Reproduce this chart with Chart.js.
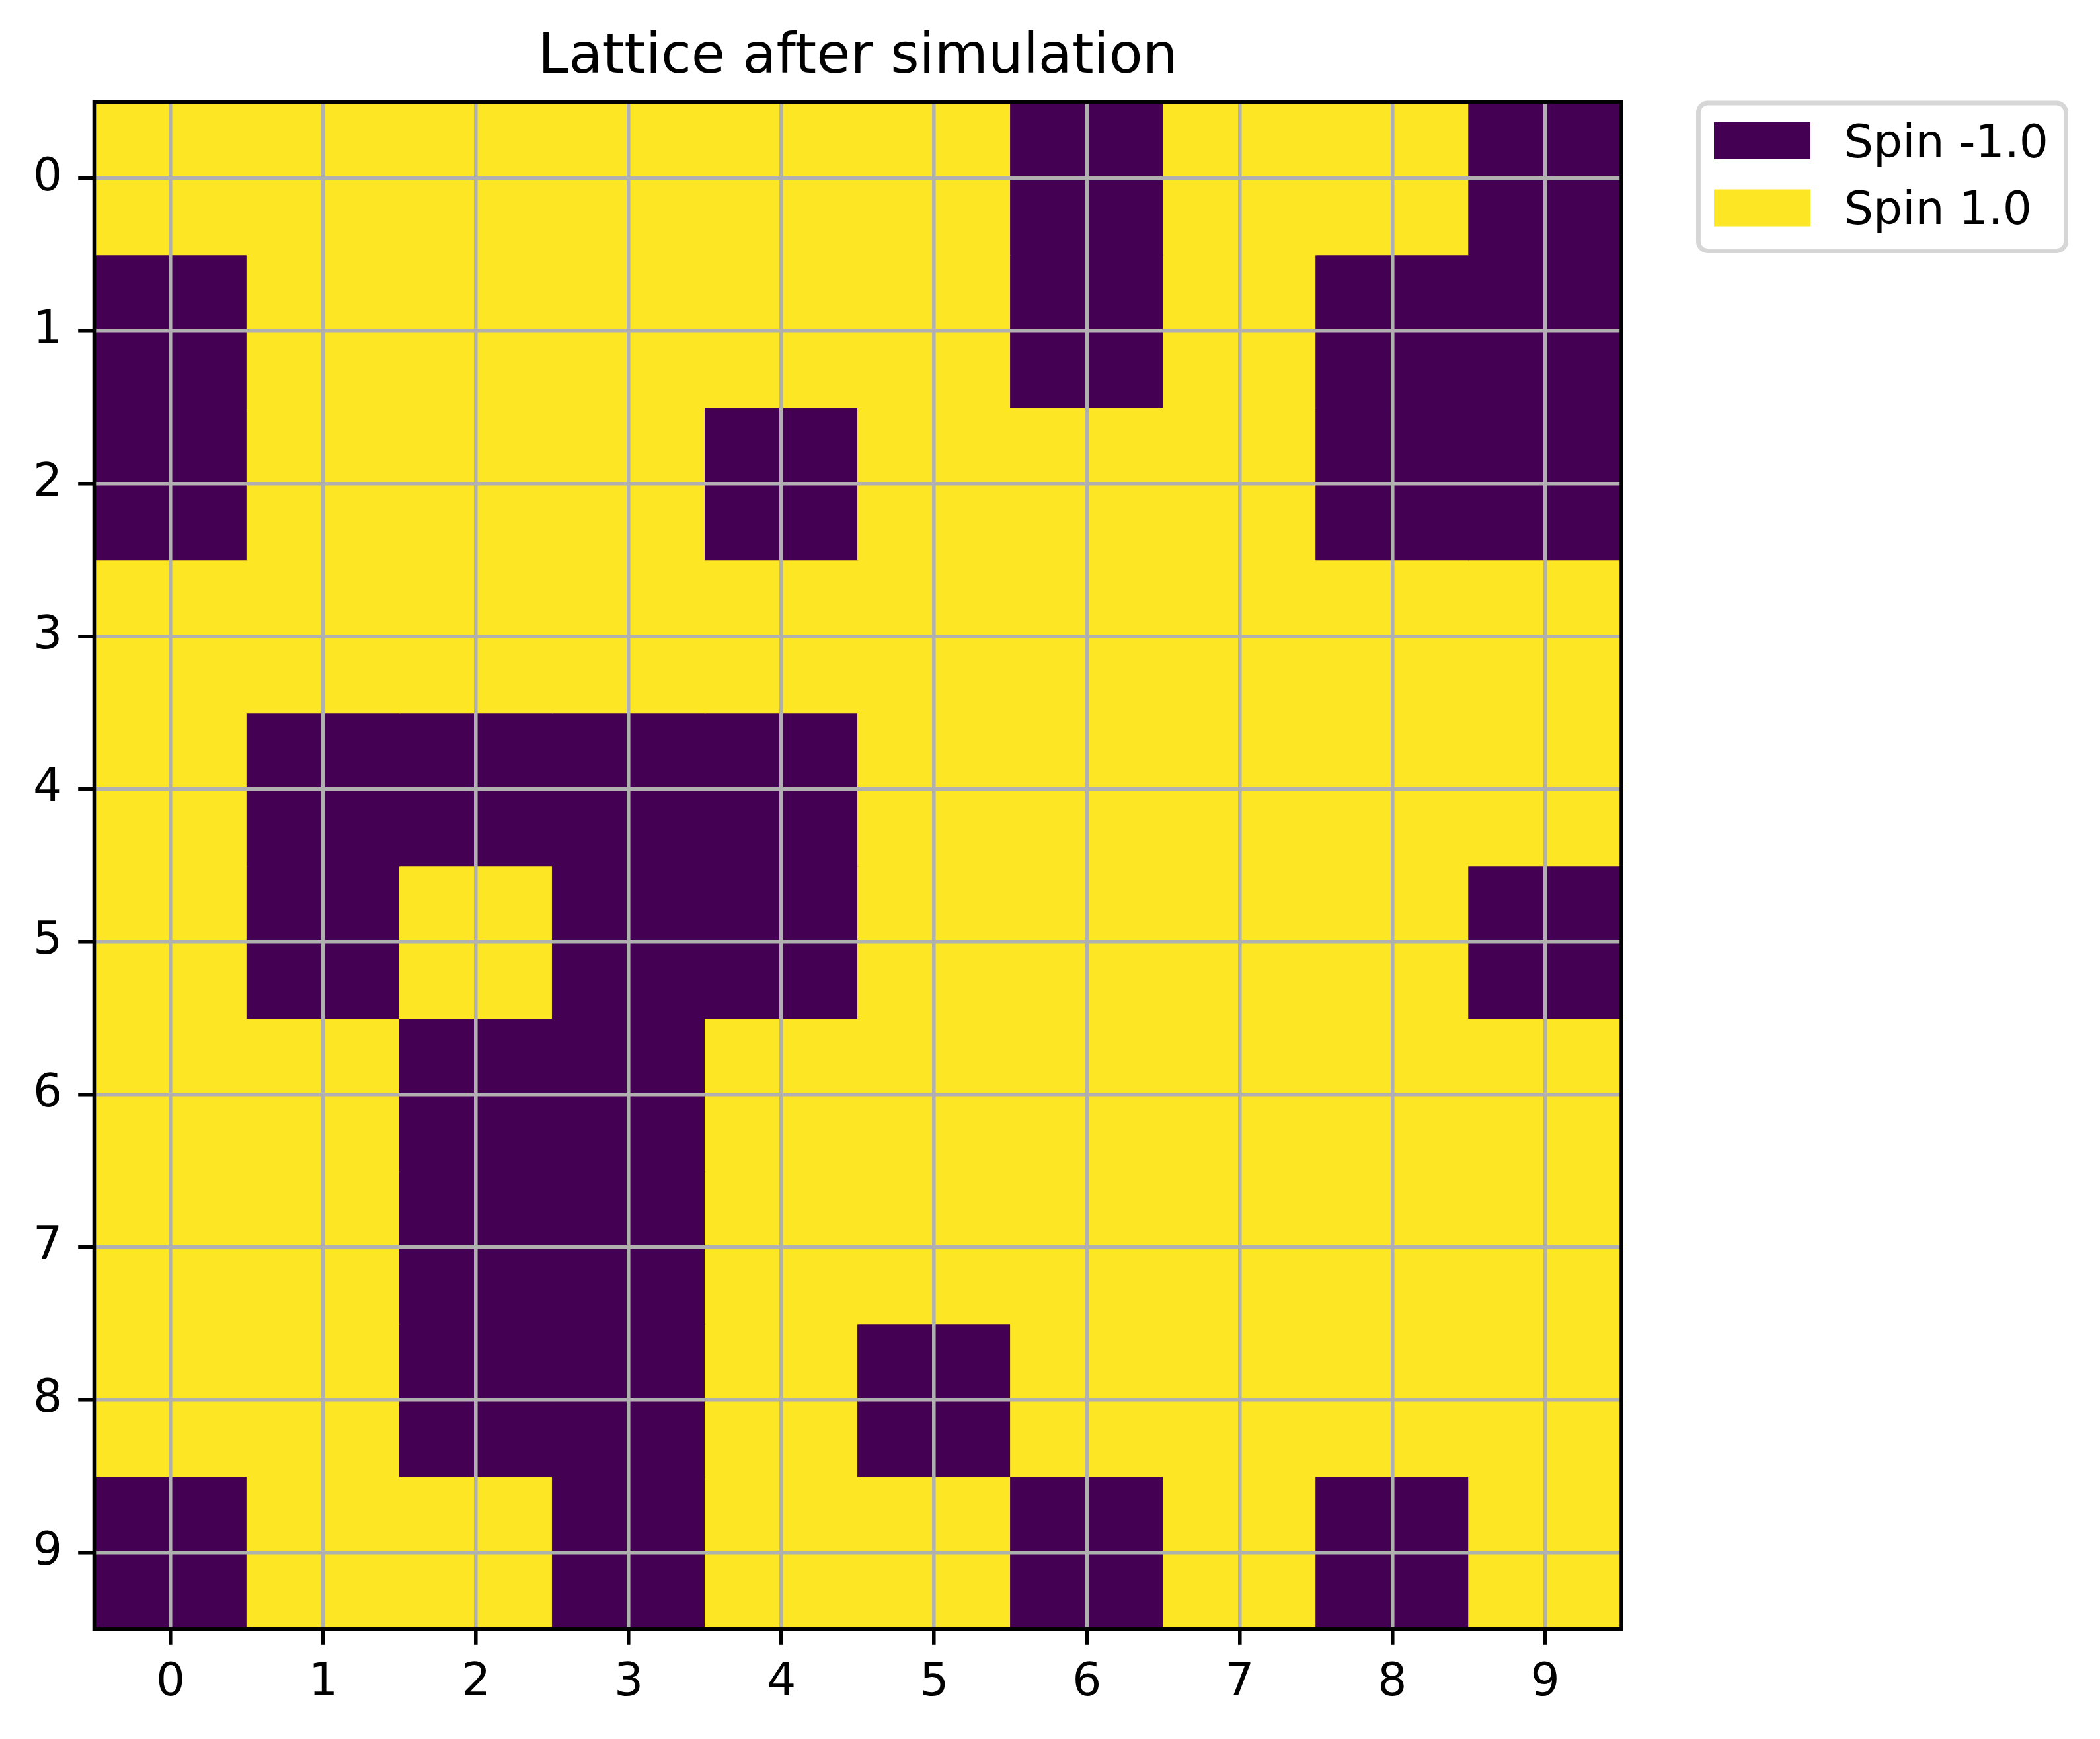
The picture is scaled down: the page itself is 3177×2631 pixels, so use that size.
<!DOCTYPE html>
<html><head><meta charset="utf-8">
<script src="https://cdn.jsdelivr.net/npm/chart.js@4/dist/chart.umd.min.js"></script>
<style>html,body{margin:0;padding:0;background:#fff;} canvas{display:block;}</style>
</head><body>
<canvas id="c" width="3177" height="2631"></canvas>
<script>
const chartTitle = 'Lattice after simulation';
const xLabels = ['0','1','2','3','4','5','6','7','8','9'];
const yTicks = [0,1,2,3,4,5,6,7,8,9];
const row0 = [ 1, 1, 1, 1, 1, 1,-1, 1, 1,-1];
const row1 = [-1, 1, 1, 1, 1, 1,-1, 1,-1,-1];
const row2 = [-1, 1, 1, 1,-1, 1, 1, 1,-1,-1];
const row3 = [ 1, 1, 1, 1, 1, 1, 1, 1, 1, 1];
const row4 = [ 1,-1,-1,-1,-1, 1, 1, 1, 1, 1];
const row5 = [ 1,-1, 1,-1,-1, 1, 1, 1, 1,-1];
const row6 = [ 1, 1,-1,-1, 1, 1, 1, 1, 1, 1];
const row7 = [ 1, 1,-1,-1, 1, 1, 1, 1, 1, 1];
const row8 = [ 1, 1,-1,-1, 1,-1, 1, 1, 1, 1];
const row9 = [-1, 1, 1,-1, 1, 1,-1, 1,-1, 1];
const spinValues = [-1, 1];
const spinLabels = ['Spin -1.0', 'Spin 1.0'];
const spinColors = ['#440154', '#fde725'];

const rows = [row0,row1,row2,row3,row4,row5,row6,row7,row8,row9];
const colorFor = v => spinColors[spinValues.indexOf(v)];
const PT = 500/72;
const FONT = "'DejaVu Sans', sans-serif";

const datasets = rows.map((row, r) => ({
  label: 'row ' + r,
  data: row.map(() => [r - 0.5, r + 0.5]),
  backgroundColor: row.map(colorFor),
  borderWidth: 0,
  inflateAmount: 0.7,
  barPercentage: 1,
  categoryPercentage: 1,
  grouped: false
}));

const framePlugin = {
  id: 'frameAndLegend',
  afterDraw(chart) {
    const ctx = chart.ctx, a = chart.chartArea;
    ctx.save();
    ctx.strokeStyle = '#000';
    ctx.lineWidth = 0.8*PT;
    ctx.lineJoin = 'miter';
    ctx.strokeRect(a.left, a.top, a.right - a.left, a.bottom - a.top);
    // legend
    const lx = 2569.5, ly = 156, lw = 556, lh = 223.5, rad = 14;
    ctx.beginPath();
    ctx.moveTo(lx + rad, ly);
    ctx.arcTo(lx + lw, ly, lx + lw, ly + lh, rad);
    ctx.arcTo(lx + lw, ly + lh, lx, ly + lh, rad);
    ctx.arcTo(lx, ly + lh, lx, ly, rad);
    ctx.arcTo(lx, ly, lx + lw, ly, rad);
    ctx.closePath();
    ctx.fillStyle = 'rgba(255,255,255,0.8)';
    ctx.fill();
    ctx.strokeStyle = '#d6d6d6';
    ctx.lineWidth = 1.0*PT;
    ctx.stroke();
    ctx.font = (10*PT) + 'px ' + FONT;
    ctx.textBaseline = 'alphabetic';
    ctx.textAlign = 'left';
    spinLabels.forEach((lab, i) => {
      const py = 185 + i*101.5;
      ctx.fillStyle = spinColors[i];
      ctx.fillRect(2593, py, 146, 56);
      ctx.fillStyle = '#000';
      ctx.fillText(lab, 2790, 237.5 + i*101.5);
    });
    ctx.restore();
  }
};

new Chart(document.getElementById('c'), {
  type: 'bar',
  data: { labels: xLabels, datasets },
  plugins: [framePlugin],
  options: {
    responsive: false,
    devicePixelRatio: 1,
    animation: false,
    layout: { padding: { left: 0, right: 724, top: 0, bottom: 0 } },
    plugins: {
      legend: { display: false },
      tooltip: { enabled: false },
      title: {
        display: true,
        text: chartTitle,
        color: '#000',
        fullSize: false,
        font: { family: FONT, size: 12*PT, weight: 'normal', lineHeight: 1.2 },
        padding: { top: 38, bottom: 16.5 }
      }
    },
    scales: {
      x: {
        type: 'category',
        offset: true,
        z: 1,
        border: { display: false },
        grid: { z: 1, offset: false, color: '#b0b0b0', lineWidth: 0.8*PT, tickColor: '#000', tickWidth: 0.8*PT, tickLength: 3.5*PT, drawTicks: true },
        ticks: { color: '#000', font: { family: FONT, size: 10*PT, lineHeight: 1.2 }, padding: 16, maxRotation: 0, autoSkip: false },
        afterFit: s => { s.height = 166.5; }
      },
      y: {
        type: 'linear',
        reverse: true,
        min: -0.5,
        max: 9.5,
        z: 1,
        border: { display: false },
        afterBuildTicks: s => { s.ticks = yTicks.map(v => ({ value: v })); },
        grid: { z: 1, color: '#b0b0b0', lineWidth: 0.8*PT, tickColor: '#000', tickWidth: 0.8*PT, tickLength: 3.5*PT, drawTicks: true },
        ticks: { color: '#000', font: { family: FONT, size: 10*PT, lineHeight: 1.2 }, padding: 24, callback: v => String(v) },
        afterFit: s => { s.width = 142.5; }
      }
    }
  }
});
</script>
</body></html>
